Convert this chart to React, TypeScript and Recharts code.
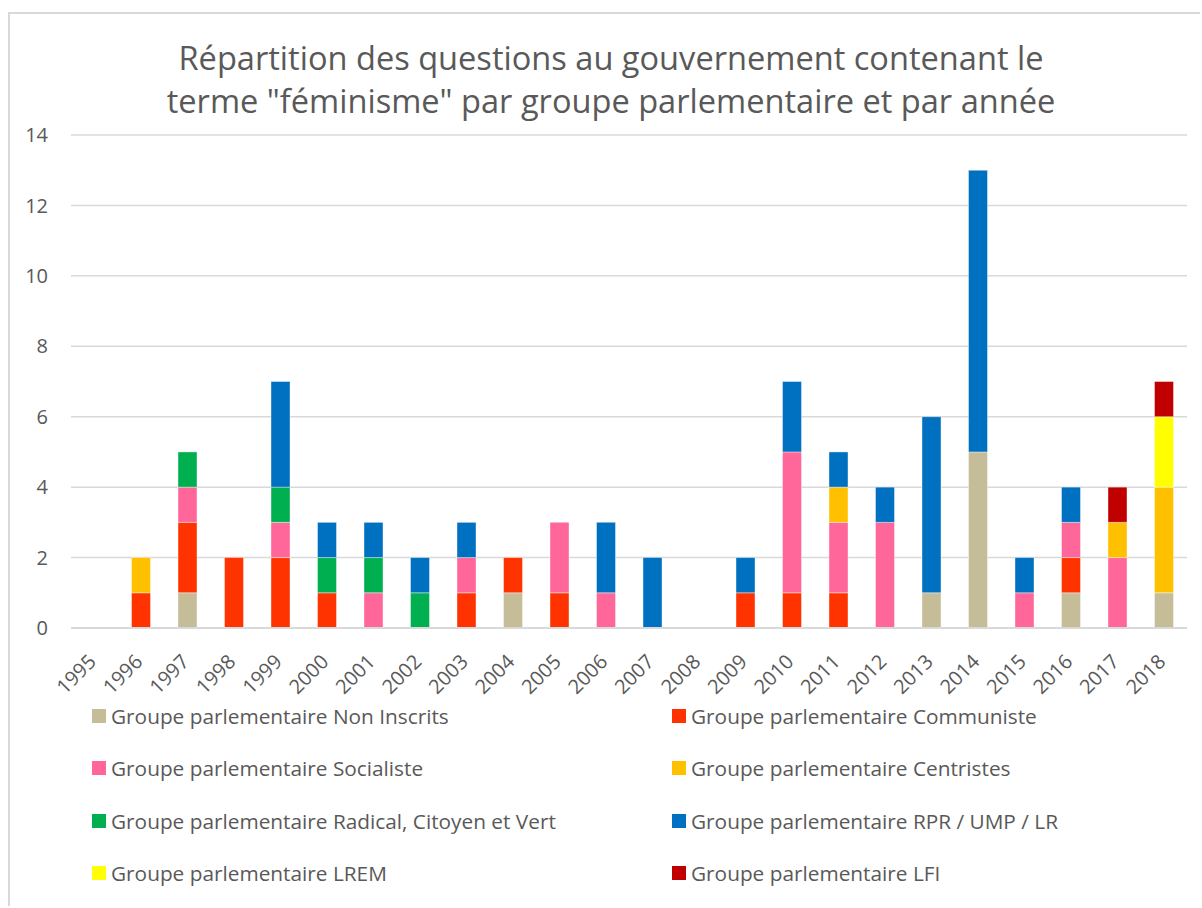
import React from "react";
import { BarChart, Bar, XAxis, YAxis, CartesianGrid } from "recharts";

const years = ["1995","1996","1997","1998","1999","2000","2001","2002","2003","2004","2005","2006","2007","2008","2009","2010","2011","2012","2013","2014","2015","2016","2017","2018"];
const nonInscrits = [0,0,1,0,0,0,0,0,0,1,0,0,0,0,0,0,0,0,1,5,0,1,0,1];
const communiste  = [0,1,2,2,2,1,0,0,1,1,1,0,0,0,1,1,1,0,0,0,0,1,0,0];
const socialiste  = [0,0,1,0,1,0,1,0,1,0,2,1,0,0,0,4,2,3,0,0,1,1,2,0];
const centristes  = [0,1,0,0,0,0,0,0,0,0,0,0,0,0,0,0,1,0,0,0,0,0,1,3];
const radical     = [0,0,1,0,1,1,1,1,0,0,0,0,0,0,0,0,0,0,0,0,0,0,0,0];
const rprUmpLr    = [0,0,0,0,3,1,1,1,1,0,0,2,2,0,1,2,1,1,5,8,1,1,0,0];
const lrem        = [0,0,0,0,0,0,0,0,0,0,0,0,0,0,0,0,0,0,0,0,0,0,0,2];
const lfi         = [0,0,0,0,0,0,0,0,0,0,0,0,0,0,0,0,0,0,0,0,0,0,1,1];
const yTicks = [0,2,4,6,8,10,12,14];
const title = ["Répartition des questions au gouvernement contenant le", "terme \"féminisme\" par groupe parlementaire et par année"];

const series = [
  { key: "ni", name: "Groupe parlementaire Non Inscrits", color: "#C4BD97", values: nonInscrits },
  { key: "com", name: "Groupe parlementaire Communiste", color: "#FF3300", values: communiste },
  { key: "soc", name: "Groupe parlementaire Socialiste", color: "#FF6699", values: socialiste },
  { key: "cen", name: "Groupe parlementaire Centristes", color: "#FFC000", values: centristes },
  { key: "rad", name: "Groupe parlementaire Radical, Citoyen et Vert", color: "#00B050", values: radical },
  { key: "rpr", name: "Groupe parlementaire RPR / UMP / LR", color: "#0070C0", values: rprUmpLr },
  { key: "lrem", name: "Groupe parlementaire LREM", color: "#FFFF00", values: lrem },
  { key: "lfi", name: "Groupe parlementaire LFI", color: "#C00000", values: lfi },
];

const data = years.map((y, i) => {
  const row: Record<string, string | number> = { year: y };
  series.forEach((s) => { row[s.key] = s.values[i]; });
  return row;
});

const FONT = "'Open Sans', sans-serif";
const TEXT = "#595959";

const XTick = (props: any) => {
  const { x, y, payload } = props;
  const ax = x + 3;
  return (
    <text x={ax} y={y} textAnchor="end" fill={TEXT} fontSize={20} fontFamily={FONT}
      transform={`rotate(-45 ${ax} ${y})`}>{payload.value}</text>
  );
};

export default function App() {
  return (
    <div style={{ position: "absolute", left: 0, top: 0, width: 1200, height: 906, overflow: "hidden", background: "#fff", fontFamily: FONT }}>
      <div style={{ position: "absolute", left: 8, top: 12, width: 1260, height: 960, border: "2px solid #d9d9d9", boxSizing: "border-box" }} />
      <div style={{ position: "absolute", left: 111, width: 1000, top: 36, textAlign: "center", color: TEXT, fontSize: 32.6, lineHeight: "43px", fontWeight: 400 }}>
        {title.map((t, i) => <div key={i} style={{ whiteSpace: "nowrap" }}>{t}</div>)}
      </div>
      <div style={{ position: "absolute", left: 0, top: 0 }}>
        <BarChart width={1200} height={900} data={data} barSize={19}
          margin={{ top: 135, right: 13, left: 31, bottom: 212 }}>
          <CartesianGrid vertical={false} stroke="#d9d9d9" strokeWidth={1.5} />
          <XAxis dataKey="year" height={60} interval={0} tickLine={false} tickSize={6} tickMargin={29}
            axisLine={{ stroke: "#d9d9d9", strokeWidth: 2 }} tick={<XTick />} />
          <YAxis width={40} domain={[0, 14]} ticks={yTicks} axisLine={false} tickLine={false}
            tickSize={6} tickMargin={17} tick={{ fill: TEXT, fontSize: 20, fontFamily: FONT }} />
          {series.map((s) => (
            <Bar key={s.key} dataKey={s.key} name={s.name} stackId="a" fill={s.color}
              stroke="#ffffff" strokeOpacity={0.4} strokeWidth={1} isAnimationActive={false} />
          ))}
        </BarChart>
      </div>
      {series.map((s, i) => {
        const col = i % 2;
        const row = Math.floor(i / 2);
        const left = col === 0 ? 92 : 672;
        const top = 716 + row * 52.3;
        return (
          <div key={s.key} style={{ position: "absolute", left, top: top - 15, height: 30, display: "flex", alignItems: "center", whiteSpace: "nowrap" }}>
            <span style={{ display: "inline-block", width: 14, height: 14, background: s.color, marginRight: 5 }} />
            <span style={{ color: TEXT, fontSize: 20.8 }}>{s.name}</span>
          </div>
        );
      })}
    </div>
  );
}
